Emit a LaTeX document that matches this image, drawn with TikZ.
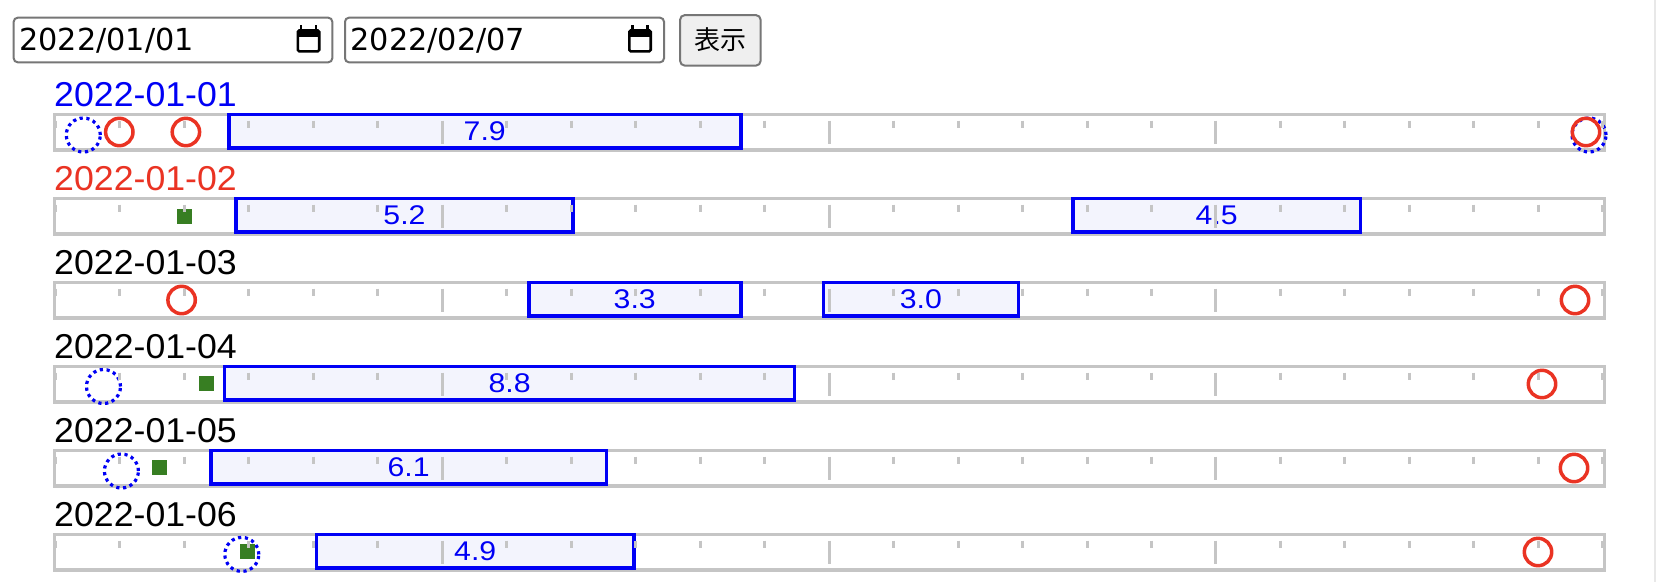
\documentclass[tikz,border=0pt]{standalone}
\usepackage{fontspec}
\newfontfamily\labfont{Liberation Sans}
\newfontfamily\inpfont{DejaVu Sans}
\newfontfamily\cjkfont{Noto Sans CJK JP}
\definecolor{cblue}{RGB}{0,0,245}
\definecolor{cred}{RGB}{234,51,35}
\definecolor{cgreen}{RGB}{55,126,34}
\definecolor{cgray}{RGB}{197,197,197}
\definecolor{cfill}{RGB}{243,244,253}
\definecolor{cborder}{RGB}{118,118,118}
\definecolor{cbtn}{RGB}{239,239,239}
\definecolor{cstrip}{RGB}{232,232,232}
\newcommand{\wideval}[1]{\scalebox{1.12}[1]{#1}}
\newcommand{\widelab}[1]{\scalebox{1.035}[1]{#1}}
\begin{document}
\begin{tikzpicture}[x=1pt,y=-1pt,
  barbox/.style={draw=cgray, line width=3.3pt, fill=white},
  valbox/.style={rectangle, draw=cblue, line width=3.5pt, fill=cfill, inner sep=0pt,
    minimum height=33.5pt, text=cblue, font=\labfont\fontsize{27}{30}\selectfont},
  redmark/.style={circle, draw=cred, line width=3.5pt, minimum size=27.4pt, inner sep=0pt},
  bluemark/.style={circle, draw=cblue, line width=3.2pt, dash pattern=on 3.2pt off 3.6pt, minimum size=34pt, inner sep=0pt},
  greenmark/.style={rectangle, fill=cgreen, draw=none, minimum size=15pt, inner sep=0pt},
  tickmark/.style={draw=cgray, line width=3pt},
  datelabel/.style={anchor=base west, inner sep=0pt, font=\labfont\fontsize{34.5}{40}\selectfont},
  inputbox/.style={draw=cborder, line width=2pt, rounded corners=4pt, fill=white},
  inputtext/.style={anchor=base west, inner sep=0pt, font=\inpfont\fontsize{30.3}{34}\selectfont},
  calicon/.style={draw=black, line width=2.6pt, rounded corners=1.5pt},
]
\path[use as bounding box] (0,0) rectangle (1656,582);
\fill[white] (0,0) rectangle (1656,582);
\fill[cstrip] (1653.5,0) rectangle (1656,582);

% ---- top controls ----
\draw[inputbox] (13.7,17.7) rectangle (332.3,62.3);
\node[inputtext] (d1) at (19,50) {2022/01/01};
\draw[inputbox] (345,17.7) rectangle (664,62.3);
\node[inputtext] (d2) at (350.3,50) {2022/02/07};
\foreach \o in {0,331.5}{
  \draw[calicon] ([xshift=\o pt]297.8,30.3) rectangle ([xshift=\o pt]319.2,51.4);
  \fill[black] ([xshift=\o pt]297.8,30.3) rectangle ([xshift=\o pt]319.2,36.5);
  \fill[black] ([xshift=\o pt]299.5,25) rectangle ([xshift=\o pt]302.1,31);
  \fill[black] ([xshift=\o pt]314.6,25) rectangle ([xshift=\o pt]317.2,31);
}
\draw[draw=cborder, line width=2pt, rounded corners=5pt, fill=cbtn] (680,15) rectangle (760.7,65.7);
\node[anchor=base, inner sep=0pt, font=\cjkfont\fontsize{26}{30}\selectfont] (btn) at (720.3,49.5) {表示};

% ---- rows: labels and bars ----
\foreach \k/\lab/\col in {0/2022-01-01/cblue,1/2022-01-02/cred,2/2022-01-03/black,3/2022-01-04/black,4/2022-01-05/black,5/2022-01-06/black}{
  \pgfmathsetmacro{\T}{112.5+84*\k}
  \node[datelabel, text=\col] (l\k) at (54,{106.7+84*\k}) {\widelab{\lab}};
  \draw[barbox] (54.65,{\T+1.65}) rectangle (1604.35,{\T+39-1.65});
}

% row 1
\node[bluemark] (r1b1) at (83.3,135) {};
\node[redmark] (r1r1) at (119.3,132) {};
\node[redmark] (r1r2) at (185.9,132) {};
\node[valbox, minimum width=512pt] (r1v1) at (484.75,131) {\wideval{7.9}};
\node[bluemark] (r1b2) at (1589,135) {};
\node[redmark] (r1r3) at (1586,132) {};

% row 2
\node[greenmark] (r2g1) at (184,216) {};
\node[valbox, minimum width=336.6pt] (r2v1) at (404.45,215) {\wideval{5.2}};
\node[valbox, minimum width=287.9pt] (r2v2) at (1216.7,215) {\wideval{4.5}};

% row 3
\node[redmark] (r3r1) at (181.6,300) {};
\node[valbox, minimum width=212pt] (r3v1) at (634.75,299) {\wideval{3.3}};
\node[valbox, minimum width=194.9pt] (r3v2) at (920.8,299) {\wideval{3.0}};
\node[redmark] (r3r2) at (1575,300) {};

% row 4
\node[bluemark] (r4b1) at (103.5,386.5) {};
\node[greenmark] (r4g1) at (206,383) {};
\node[valbox, minimum width=570pt] (r4v1) at (509.55,383) {\wideval{8.8}};
\node[redmark] (r4r1) at (1542,384) {};

% row 5
\node[bluemark] (r5b1) at (121.4,471) {};
\node[greenmark] (r5g1) at (159.5,467) {};
\node[valbox, minimum width=395.8pt] (r5v1) at (408.65,467) {\wideval{6.1}};
\node[redmark] (r5r1) at (1574,468) {};

% row 6
\node[bluemark] (r6b1) at (241.8,554.4) {};
\node[greenmark] (r6g1) at (247,551.3) {};
\node[valbox, minimum width=317.6pt] (r6v1) at (475.25,551) {\wideval{4.9}};
\node[redmark] (r6r1) at (1538,552) {};

% ---- ticks ----
\foreach \k in {0,...,5}{
  \pgfmathsetmacro{\T}{112.5+84*\k}
  \foreach \h in {0,...,24}{
    \pgfmathsetmacro{\X}{55.5+64.47*\h}
    \pgfmathsetmacro{\L}{(\h==6 || \h==12 || \h==18) ? 31 : 15}
    \draw[tickmark] (\X,{\T+8}) -- (\X,{\T+\L});
  }
}
\end{tikzpicture}
\end{document}
